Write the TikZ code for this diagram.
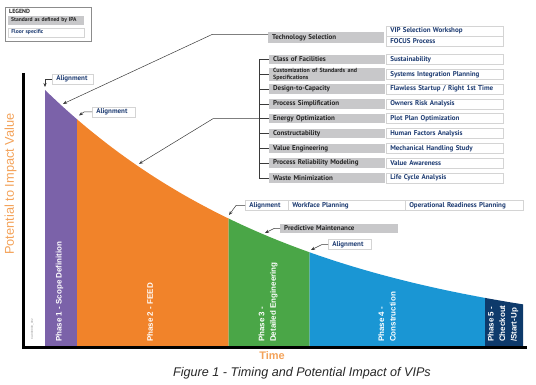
\documentclass[tikz,border=0pt]{standalone}
\usepackage{fontspec}
\setmainfont{Liberation Sans}
\newfontfamily\vipfont{PT Sans}[BoldFont={PT Sans Bold}]
\usetikzlibrary{arrows.meta}

\definecolor{phaseone}{HTML}{7B62A9}
\definecolor{phasetwo}{HTML}{F1832A}
\definecolor{phasethree}{HTML}{4AA647}
\definecolor{phasefour}{HTML}{1A96D4}
\definecolor{phasefive}{HTML}{0E3A6B}
\definecolor{ipagray}{HTML}{C8C8CA}
\definecolor{floornavy}{HTML}{1F3D73}
\definecolor{axisorange}{HTML}{F3A259}
\definecolor{rimgray}{HTML}{D4D4D4}
\definecolor{leadgray}{HTML}{3A3A3A}

\tikzset{
  ipabox/.style={fill=ipagray, anchor=west, inner xsep=4pt, inner ysep=0pt,
    minimum height=9.5pt, text width=#1, align=left, text=black!85,
    font=\vipfont\bfseries\fontsize{7}{7}\selectfont},
  ipabox/.default=108pt,
  floorbox/.style={draw=rimgray, line width=0.6pt, fill=white, anchor=west,
    inner xsep=4pt, inner ysep=0pt, minimum height=10pt, text width=#1,
    align=left, text=floornavy, font=\vipfont\bfseries\fontsize{7}{7}\selectfont},
  floorbox/.default=109pt,
  leader/.style={draw=leadgray, line width=0.5pt, -{Stealth[length=4pt,width=3.2pt]}},
  bracket/.style={draw=leadgray, line width=0.5pt},
  phaselbl/.style={rotate=90, anchor=west, inner sep=0pt, text=white, align=left,
    font=\bfseries\fontsize{8}{11.5}\selectfont}
}

\begin{document}
\begin{tikzpicture}[x=1pt,y=-1pt,
  declare function={imp(\t)=346-256*exp(-0.0038*(\t-45));}]
  \useasboundingbox (0,0) rectangle (536,385);

% legend
  \node[draw=black!45, line width=0.7pt, minimum width=86pt, minimum height=34pt,
    anchor=north west, inner sep=0pt] (legend) at (5,7) {};
  \node[anchor=west, inner sep=0pt, font=\vipfont\bfseries\fontsize{6}{6}\selectfont,
    text=black!85] (legendtitle) at (9,11.5) {LEGEND};
  \node[ipabox, text width=70pt, minimum height=8.5pt, inner xsep=3pt,
    font=\vipfont\bfseries\fontsize{5.6}{5.6}\selectfont] (legendipa) at (8,20.5) {Standard as defined by IPA};
  \node[floorbox, text width=70pt, minimum height=9pt, inner xsep=3pt,
    font=\vipfont\bfseries\fontsize{5.6}{5.6}\selectfont] (legendfloor) at (8,32.5) {Floor specific};

% phases under the curve
  \foreach \xa/\xb/\col in {45/77/phaseone,77/228.5/phasetwo,228.5/309.5/phasethree,
      309.5/485/phasefour,485/523/phasefive}{
    \fill[\col] (\xa,346) -- plot[domain=\xa:\xb, samples=40] (\x,{imp(\x)}) -- (\xb,346) -- cycle;
  }

% axes
  \draw[line width=3pt] (23.5,73) -- (23.5,347.5);
  \draw[line width=3pt] (22,347) -- (527,347);
  \node[rotate=90, text=axisorange, font=\fontsize{12.8}{12.8}\selectfont] (ylabel) at (10.5,184) {Potential to Impact Value};
  \node[text=axisorange, font=\bfseries\fontsize{11}{11}\selectfont] (xlabel) at (272,356) {Time};
  \node[rotate=90, anchor=west, inner sep=0pt, text=black!40,
    font=\fontsize{3}{3}\selectfont] (docid) at (32.5,340) {CA000000\_002};

% phase labels
  \node[phaselbl] (p1) at (59.5,342) {Phase 1 - Scope Definition};
  \node[phaselbl] (p2) at (150,342) {Phase 2 - FEED};
  \node[phaselbl] (p3) at (268,342) {Phase 3 -\\Detailed Engineering};
  \node[phaselbl] (p4) at (387,342) {Phase 4 -\\Construction};
  \node[phaselbl] (p5) at (503,342) {Phase 5 -\\Checkout\\/Start-Up};

% tips on the curve
  \coordinate (scopetip) at (45,87);
  \coordinate (techtip) at (63,{imp(63)-3});
  \coordinate (feedtop) at (79,115.5);
  \coordinate (feedtip) at (139,{imp(139)-3});
  \coordinate (detailtip) at (229,215);
  \coordinate (pmtip) at (265,{imp(265)-2});
  \coordinate (constip) at (311,250);

% technology selection
  \node[ipabox, minimum height=11pt] (tech) at (268,37.5) {Technology Selection};
  \node[floorbox] (vip) at (386,31) {VIP Selection Workshop};
  \node[floorbox] (focus) at (386,41) {FOCUS Process};
  \coordinate (techbend) at (212,34.5);
  \draw[leader] ([yshift=3pt]tech.west) -- (techbend) -- (techtip);

% FEED list
  \foreach \lbl/\flr [count=\i] in {Class of Facilities/Sustainability,
      {\fontsize{6}{5.2}\selectfont Customization of Standards and\\Specifications}/Systems Integration Planning,
      Design-to-Capacity/{Flawless Startup / Right 1st Time},
      Process Simplification/Owners Risk Analysis,
      Energy Optimization/Plot Plan Optimization,
      Constructability/Human Factors Analysis,
      Value Engineering/Mechanical Handling Study,
      Process Reliability Modeling/Value Awareness,
      Waste Minimization/Life Cycle Analysis}{
    \node[ipabox] (std\i) at (269,{44.7+14.8*\i}) {\lbl};
    \node[floorbox] (flr\i) at (386,{44.7+14.8*\i}) {\flr};
    \draw[bracket] (std\i.west) -- ++(-10,0);
  }
  \draw[bracket] ([xshift=-10pt]std1.west) -- ([xshift=-10pt]std9.west);
  \coordinate (energybend) at (213,{44.7+14.8*5});
  \draw[leader] (std5.west) -- (energybend) -- (feedtip);

% alignments at the phase gates
  \node[floorbox, text width=33pt] (align1) at (52,79) {Alignment};
  \draw[leader] (align1.west) -| (scopetip);
  \node[floorbox, text width=35pt] (align2) at (92,112) {Alignment};
  \draw[leader] (align2.west) -- ++(-8,0) -- (feedtop);
  \node[floorbox, text width=35pt] (align3) at (245,205.5) {Alignment};
  \node[floorbox] (workface) at (288,205.5) {Workface Planning};
  \node[floorbox, text width=110pt] (readiness) at (405,205.5) {Operational Readiness Planning};
  \draw[leader] (align3.west) -- ++(-9,0) -- (detailtip);
  \node[ipabox, text width=110pt] (predictive) at (280,228.5) {Predictive Maintenance};
  \draw[leader] (predictive.west) -- ++(-6,0) -- (pmtip);
  \node[floorbox, text width=35pt] (align4) at (328,244.5) {Alignment};
  \draw[leader] (align4.west) -- ++(-6,0) -- (constip);

% caption
  \node[font=\itshape\fontsize{12.6}{12.6}\selectfont, text=black!85] (caption) at (302,373)
    {Figure 1 - Timing and Potential Impact of VIPs};
\end{tikzpicture}
\end{document}
